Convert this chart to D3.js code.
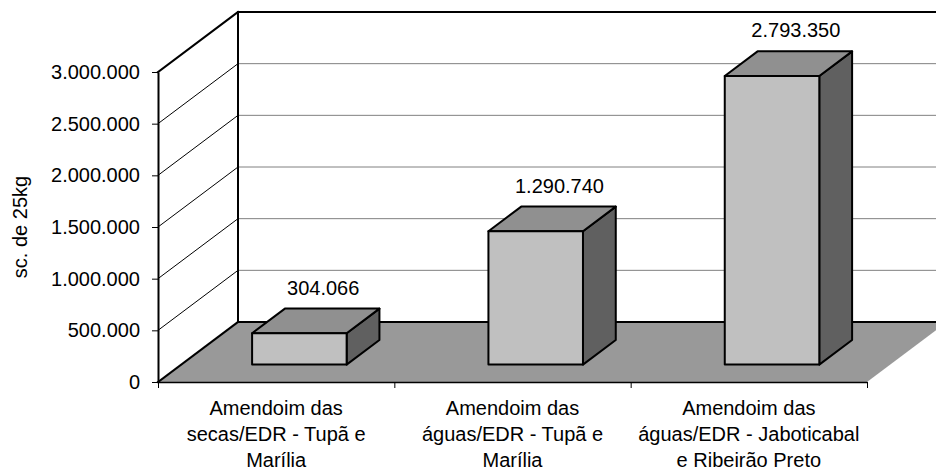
<!DOCTYPE html>
<html>
<head>
<meta charset="utf-8">
<script src="https://cdn.jsdelivr.net/npm/d3@7"></script>
<style>
  html, body { margin: 0; padding: 0; background: #fff; }
  svg { display: block; font-family: "Liberation Sans", Arial, sans-serif; }
</style>
</head>
<body>
<svg id="chart" width="936" height="473"></svg>
<script>
// Production of peanuts (sacks of 25 kg) by season and region
const categories = [
  ["Amendoim das", "secas/EDR - Tupã e", "Marília"],
  ["Amendoim das", "águas/EDR - Tupã e", "Marília"],
  ["Amendoim das", "águas/EDR - Jaboticabal", "e Ribeirão Preto"]
];
const values = [304066, 1290740, 2793350];
const yTicks = [0, 500000, 1000000, 1500000, 2000000, 2500000, 3000000];
const yTitle = "sc. de 25kg";

const W = 936, H = 473;
const svg = d3.select("#chart");

// Portuguese number formatting: 1.290.740
const fmt = d3.formatLocale({ decimal: ",", thousands: ".", grouping: [3], currency: ["R$", ""] }).format(",d");

// Plot geometry (front plane) and 3D depth projection
const plotLeft = 158, plotRight = 867, plotBottom = 382, plotTop = 72;
const depthX = 80, depthY = -60;
const P = (px, py, f) => [px + f * depthX, py + f * depthY];

const y = d3.scaleLinear().domain([0, 3000000]).range([plotBottom, plotTop]);
const xEdge = d3.scaleLinear().domain([0, categories.length]).range([plotLeft, plotRight]);
const xBar = d3.scaleBand().domain(d3.range(categories.length)).range([plotLeft, plotRight])
  .paddingInner(0.6).paddingOuter(0.3);
const bw = xBar.bandwidth();
const f0 = 0.29, f1 = 0.70;   // bar front / back depth fractions

const g = svg.append("g");

// Back wall
const bTopLeft = P(plotLeft, y(3000000), 1), bBotLeft = P(plotLeft, y(0), 1);
g.append("rect")
  .attr("x", bTopLeft[0]).attr("y", bTopLeft[1])
  .attr("width", plotRight - plotLeft).attr("height", bBotLeft[1] - bTopLeft[1])
  .attr("fill", "#fff");

// Back wall gridlines
g.selectAll(".bgrid").data(yTicks.slice(1, -1)).join("line")
  .attr("x1", d => P(plotLeft, y(d), 1)[0]).attr("y1", d => P(plotLeft, y(d), 1)[1])
  .attr("x2", W).attr("y2", d => P(plotLeft, y(d), 1)[1])
  .attr("stroke", "#808080").attr("stroke-width", 1);

// Side wall
const sidePts = [[plotLeft, y(0)], [plotLeft, y(3000000)], P(plotLeft, y(3000000), 1), P(plotLeft, y(0), 1)];
g.append("polygon").attr("points", sidePts.map(p => p.join(",")).join(" ")).attr("fill", "#fff");

// Side wall gridlines
g.selectAll(".sgrid").data(yTicks.slice(1, -1)).join("line")
  .attr("x1", plotLeft).attr("y1", d => y(d))
  .attr("x2", d => P(plotLeft, y(d), 1)[0]).attr("y2", d => P(plotLeft, y(d), 1)[1])
  .attr("stroke", "#000").attr("stroke-width", 1);

// Floor
const floorPts = [[plotLeft, y(0)], [plotRight, y(0)], P(plotRight, y(0), 1), P(plotLeft, y(0), 1)];
g.append("polygon").attr("points", floorPts.map(p => p.join(",")).join(" ")).attr("fill", "#999999");

// Wall borders
const border = (a, b) => g.append("line")
  .attr("x1", a[0]).attr("y1", a[1]).attr("x2", b[0]).attr("y2", b[1])
  .attr("stroke", "#000").attr("stroke-width", 2).attr("stroke-linecap", "square");
border(bTopLeft, [W, bTopLeft[1]]);
border(bTopLeft, bBotLeft);
border(bBotLeft, [W, bBotLeft[1]]);
border([plotLeft, y(3000000)], bTopLeft);
border([plotLeft, y(0)], bBotLeft);

// Bars
const bars = g.selectAll(".bar").data(values).join("g").attr("class", "bar");
bars.each(function (v, i) {
  const gb = d3.select(this);
  const xl = xBar(i), xr = xBar(i) + bw;
  const fbl = P(xl, y(0), f0), fbr = P(xr, y(0), f0);
  const ftl = P(xl, y(v), f0), ftr = P(xr, y(v), f0);
  const btl = P(xl, y(v), f1), btr = P(xr, y(v), f1), bbr = P(xr, y(0), f1);
  const poly = (pts, fill) => gb.append("polygon")
    .attr("points", pts.map(p => p.join(",")).join(" "))
    .attr("fill", fill).attr("stroke", "#000").attr("stroke-width", 2)
    .attr("stroke-linejoin", "round");
  poly([fbr, ftr, btr, bbr], "#606060");
  poly([ftl, ftr, btr, btl], "#909090");
  poly([fbl, fbr, ftr, ftl], "#c0c0c0");

  const lab = P(xl + bw / 2, y(v), f1);
  gb.append("text")
    .attr("x", lab[0] - 9).attr("y", lab[1] - 14)
    .attr("text-anchor", "middle").attr("font-size", 20).attr("fill", "#000")
    .text(fmt(v));
});

// Value axis
const yAxis = g.append("g").attr("transform", `translate(${plotLeft},0)`)
  .call(d3.axisLeft(y).tickValues(yTicks).tickFormat(fmt).tickSize(6).tickSizeOuter(0).tickPadding(12));
yAxis.select(".domain").attr("stroke", "#000").attr("stroke-width", 2);
yAxis.selectAll(".tick line").attr("stroke", "#000");
yAxis.selectAll(".tick text").attr("font-size", 20).attr("fill", "#000")
  .attr("font-family", "Liberation Sans, Arial, sans-serif");

// Category axis
const xAxis = g.append("g").attr("transform", `translate(0,${plotBottom})`)
  .call(d3.axisBottom(xEdge).tickValues(d3.range(categories.length + 1)).tickFormat("").tickSize(6).tickSizeOuter(0));
xAxis.select(".domain").attr("stroke", "#000").attr("stroke-width", 1.5);
xAxis.selectAll(".tick line").attr("stroke", "#000");

// Category labels
const catText = g.selectAll(".cat").data(categories).join("text")
  .attr("class", "cat")
  .attr("text-anchor", "middle").attr("font-size", 20).attr("fill", "#000");
catText.selectAll("tspan").data((d, i) => d.map(line => ({ line, i }))).join("tspan")
  .attr("x", d => (xEdge(d.i) + xEdge(d.i + 1)) / 2)
  .attr("y", (d, j) => 415 + j * 26)
  .text(d => d.line);

// Value axis title
g.append("text")
  .attr("transform", `translate(27,${(plotTop + plotBottom) / 2}) rotate(-90)`)
  .attr("text-anchor", "middle").attr("font-size", 20).attr("fill", "#000")
  .text(yTitle);
</script>
</body>
</html>
